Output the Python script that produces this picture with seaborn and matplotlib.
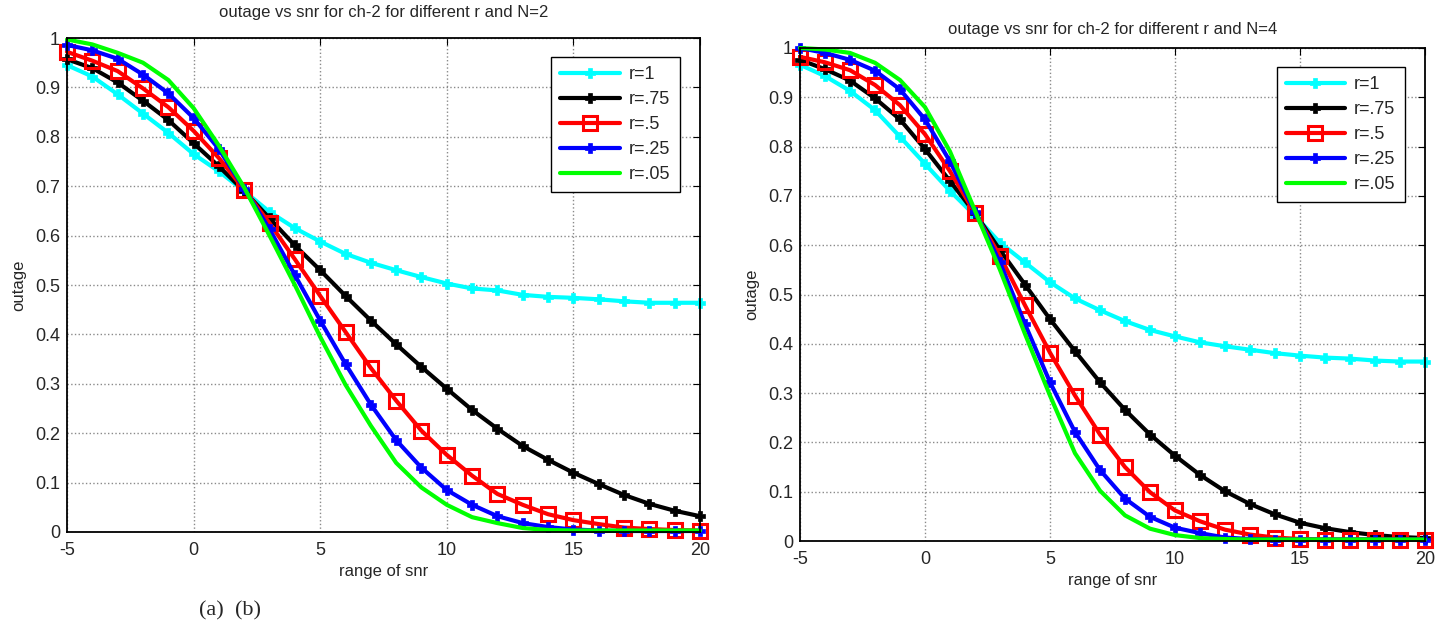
import numpy as np
import pandas as pd
import matplotlib
matplotlib.use("Agg")
import matplotlib.pyplot as plt
import seaborn as sns

snr = list(range(-5, 21))

# N = 2
n2_r1 = [0.945, 0.922, 0.886, 0.847, 0.808, 0.765, 0.730, 0.690, 0.648, 0.615, 0.588, 0.563, 0.545,
         0.530, 0.516, 0.503, 0.493, 0.489, 0.480, 0.476, 0.474, 0.471, 0.467, 0.464, 0.464, 0.464]
n2_r75 = [0.957, 0.939, 0.910, 0.873, 0.834, 0.787, 0.740, 0.690, 0.635, 0.580, 0.530, 0.478, 0.428,
          0.380, 0.334, 0.290, 0.247, 0.209, 0.174, 0.146, 0.120, 0.097, 0.075, 0.057, 0.043, 0.032]
n2_r5 = [0.972, 0.954, 0.933, 0.898, 0.860, 0.812, 0.757, 0.693, 0.625, 0.552, 0.478, 0.405, 0.332,
         0.266, 0.205, 0.156, 0.114, 0.077, 0.055, 0.036, 0.024, 0.016, 0.009, 0.006, 0.004, 0.003]
n2_r25 = [0.986, 0.975, 0.958, 0.926, 0.888, 0.838, 0.775, 0.695, 0.613, 0.520, 0.428, 0.340, 0.258,
          0.186, 0.130, 0.085, 0.055, 0.032, 0.018, 0.010, 0.005, 0.003, 0.002, 0.002, 0.002, 0.002]
n2_r05 = [0.997, 0.987, 0.970, 0.950, 0.915, 0.858, 0.782, 0.697, 0.600, 0.500, 0.395, 0.298, 0.215,
          0.140, 0.090, 0.055, 0.030, 0.018, 0.008, 0.004, 0.003, 0.003, 0.003, 0.003, 0.003, 0.003]

# N = 4
n4_r1 = [0.966, 0.943, 0.913, 0.874, 0.820, 0.765, 0.710, 0.660, 0.605, 0.565, 0.525, 0.492, 0.468,
         0.446, 0.428, 0.415, 0.403, 0.395, 0.388, 0.381, 0.376, 0.372, 0.370, 0.366, 0.364, 0.364]
n4_r75 = [0.976, 0.957, 0.934, 0.898, 0.855, 0.795, 0.730, 0.665, 0.590, 0.520, 0.450, 0.385, 0.322,
          0.266, 0.216, 0.173, 0.134, 0.101, 0.075, 0.054, 0.037, 0.026, 0.018, 0.012, 0.008, 0.006]
n4_r5 = [0.982, 0.971, 0.955, 0.925, 0.884, 0.825, 0.750, 0.665, 0.578, 0.478, 0.382, 0.295, 0.216,
         0.150, 0.099, 0.062, 0.040, 0.023, 0.013, 0.007, 0.004, 0.003, 0.003, 0.003, 0.003, 0.003]
n4_r25 = [1.000, 0.990, 0.976, 0.954, 0.916, 0.855, 0.770, 0.668, 0.565, 0.440, 0.322, 0.221, 0.144,
          0.086, 0.049, 0.027, 0.016, 0.007, 0.004, 0.003, 0.003, 0.003, 0.003, 0.003, 0.003, 0.003]
n4_r05 = [1.000, 0.997, 0.990, 0.970, 0.935, 0.880, 0.790, 0.670, 0.550, 0.420, 0.295, 0.178, 0.102,
          0.052, 0.025, 0.012, 0.006, 0.004, 0.003, 0.003, 0.003, 0.003, 0.003, 0.003, 0.003, 0.003]

labels = ["r=1", "r=.75", "r=.5", "r=.25", "r=.05"]
titles = ["outage vs snr for ch-2 for different r and N=2",
          "outage vs snr for ch-2 for different r and N=4"]
xticks = [-5, 0, 5, 10, 15, 20]
yticks = [0, 0.1, 0.2, 0.3, 0.4, 0.5, 0.6, 0.7, 0.8, 0.9, 1.0]
ytick_labels = ["0", "0.1", "0.2", "0.3", "0.4", "0.5", "0.6", "0.7", "0.8", "0.9", "1"]

colors = ["#00FFFF", "#000000", "#FF0000", "#0000FF", "#00FF00"]
markers = ["P", "P", "s", "P", None]

sns.set_style("white")
plt.rcParams["font.family"] = ["Liberation Sans", "DejaVu Sans"]
plt.rcParams["axes.unicode_minus"] = False

fig = plt.figure(figsize=(14.47, 6.32), dpi=100)
ax1 = fig.add_axes([67/1447, 1-532/632, (700-67)/1447, (532-38)/632])
ax2 = fig.add_axes([800/1447, 1-541/632, (1425-800)/1447, (541-48)/632])

datasets = [[n2_r1, n2_r75, n2_r5, n2_r25, n2_r05],
            [n4_r1, n4_r75, n4_r5, n4_r25, n4_r05]]
title_pads = [15, 10]

for ax, series, title, tpad in zip([ax1, ax2], datasets, titles, title_pads):
    for vals, lab, c, m in zip(series, labels, colors, markers):
        df = pd.DataFrame({"snr": snr, "outage": vals})
        kw = dict(color=c, linewidth=3, label=lab, clip_on=False, zorder=3)
        if m == "s":
            kw.update(marker="s", markersize=10, markerfacecolor="none",
                      markeredgecolor=c, markeredgewidth=2.2)
        elif m == "P":
            kw.update(marker="P", markersize=7, markerfacecolor=c,
                      markeredgecolor=c, markeredgewidth=0.5)
        sns.lineplot(data=df, x="snr", y="outage", ax=ax, **kw)
    ax.set_xlim(-5, 20)
    ax.set_ylim(0, 1)
    ax.set_xticks(xticks)
    ax.set_yticks(yticks)
    ax.set_yticklabels(ytick_labels)
    ax.grid(True, linestyle=":", color="#8a8a8a", linewidth=1.0)
    ax.tick_params(direction="in", length=5, labelsize=13, color="black",
                   top=True, right=True, pad=5)
    ax.tick_params(axis="x", pad=7)
    for sp in ax.spines.values():
        sp.set_color("black")
        sp.set_linewidth(1.3)
        sp.set_zorder(4)
    ax.set_title(title, fontsize=12, pad=tpad)
    ax.set_xlabel("range of snr", fontsize=12, labelpad=4)
    ax.set_ylabel("outage", fontsize=12, labelpad=6)
    leg = ax.legend(loc="upper right", fontsize=13, frameon=True, fancybox=False,
                    edgecolor="black", framealpha=1, handlelength=3.3,
                    borderpad=0.5, labelspacing=0.45, handletextpad=0.5,
                    bbox_to_anchor=(0.982, 0.98))
    leg.get_frame().set_linewidth(1.0)
    leg.set_zorder(5)

fig.text(0.159, 1-611/632, "(a)  (b)", fontsize=16, family="Liberation Serif",
         ha="center", va="center")

fig.savefig("out.png", dpi=100)
